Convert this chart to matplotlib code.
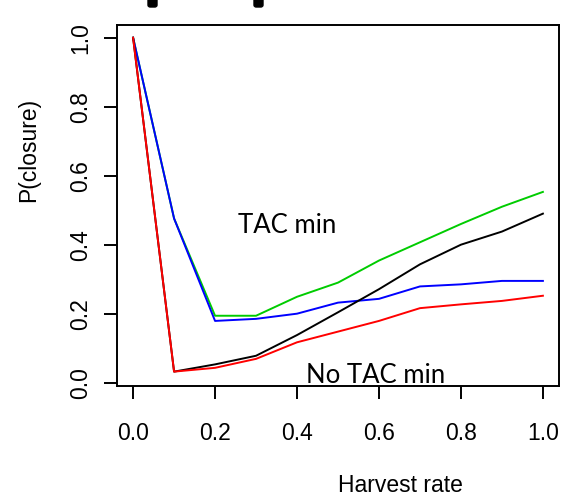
import numpy as np
import matplotlib.pyplot as plt
from matplotlib.patches import FancyBboxPatch

harvest = [0.0, 0.1, 0.2, 0.3, 0.4, 0.5, 0.6, 0.7, 0.8, 0.9, 1.0]
p_green = [1.0, 0.476, 0.194, 0.194, 0.249, 0.290, 0.354, 0.407, 0.460, 0.510, 0.553]
p_blue = [1.0, 0.476, 0.179, 0.185, 0.200, 0.232, 0.243, 0.279, 0.285, 0.295, 0.295]
p_black = [1.0, 0.032, 0.053, 0.078, 0.138, 0.204, 0.271, 0.343, 0.400, 0.438, 0.490]
p_red = [1.0, 0.032, 0.043, 0.069, 0.117, 0.148, 0.179, 0.216, 0.227, 0.237, 0.252]
ticks = [0.0, 0.2, 0.4, 0.6, 0.8, 1.0]

plt.rcParams['font.family'] = ['Liberation Sans', 'DejaVu Sans']

fig = plt.figure(figsize=(5.76, 4.99), dpi=100)
ax = fig.add_axes([0.2026, 0.2265, 0.7684, 0.7235])

ax.plot(harvest, p_green, color="#00cc00", lw=1.4)
ax.plot(harvest, p_blue, color="#0000ff", lw=1.4)
ax.plot(harvest, p_black, color="black", lw=1.4)
ax.plot(harvest, p_red, color="#ff0000", lw=1.4)

ax.set_xlim(-0.04, 1.04)
ax.set_ylim(-0.0096, 1.037)
ax.set_xticks(ticks)
ax.set_yticks(ticks)
ax.set_xticklabels(["%.1f" % t for t in ticks])
ax.set_yticklabels(["%.1f" % t for t in ticks], rotation=90, va="center")
ax.tick_params(axis="x", length=9, width=1.4, pad=17, labelsize=16.5)
ax.tick_params(axis="y", length=9.5, width=1.4, pad=8, labelsize=16.5)
for s in ax.spines.values():
    s.set_linewidth(1.4)

ax.text(0.377, 0.457, "TAC min", fontsize=18.5, family="Lato", ha="center", va="center")
ax.text(0.591, 0.022, "No TAC min", fontsize=18.5, family="Lato", ha="center", va="center")

fig.text(400 / 576, 1 - 485 / 499, "Harvest rate", fontsize=16.5, ha="center", va="center")
fig.text(29 / 576, 1 - 150 / 499, "P(closure)", fontsize=16.5, rotation=90, ha="center", va="center")

# cut-off marks at the top edge
for x0 in [148, 254]:
    fig.patches.append(FancyBboxPatch((x0 / 576, 1 - 7 / 499), 9 / 576, 9 / 499,
                                      boxstyle="round,pad=0,rounding_size=0.004",
                                      transform=fig.transFigure, color="black"))

fig.savefig("out.png", dpi=100)
